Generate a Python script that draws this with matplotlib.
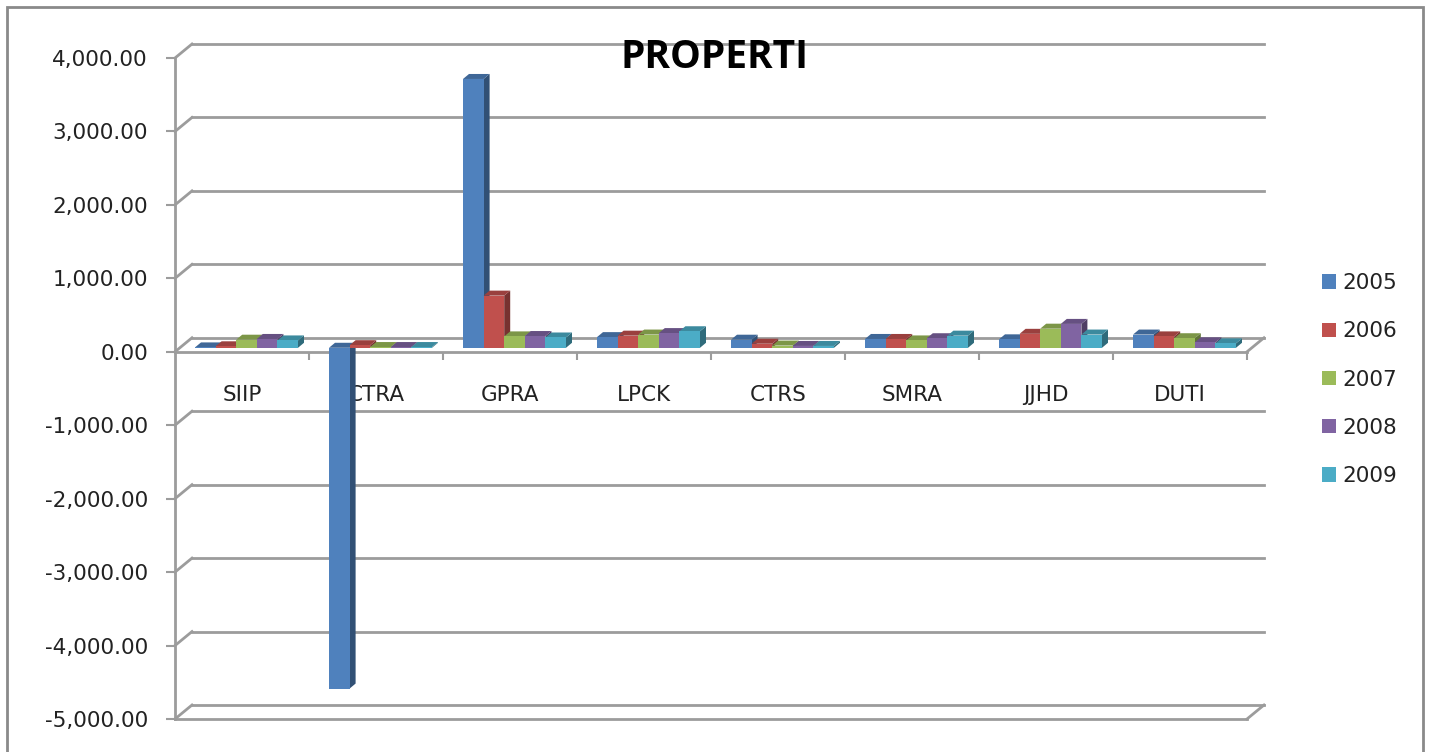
import numpy as np
import matplotlib
matplotlib.use('Agg')
import matplotlib.pyplot as plt
from matplotlib.patches import Polygon, Rectangle, Patch
from matplotlib.ticker import FuncFormatter

categories = ['SIIP', 'CTRA', 'GPRA', 'LPCK', 'CTRS', 'SMRA', 'JJHD', 'DUTI']
years = ['2005', '2006', '2007', '2008', '2009']
v2005 = [5, -4640, 3660, 145, 110, 120, 115, 180]
v2006 = [20, 35, 710, 165, 55, 120, 190, 155]
v2007 = [110, 10, 155, 180, 30, 100, 260, 130]
v2008 = [120, 10, 160, 200, 25, 130, 325, 75]
v2009 = [100, 10, 140, 225, 25, 165, 180, 60]
series = [v2005, v2006, v2007, v2008, v2009]
colors = ['#4F81BD', '#C0504D', '#9BBB59', '#8064A2', '#4BACC6']

W, H = 1429, 752
fig = plt.figure(figsize=(W/100., H/100.), dpi=100)
fig.patch.set_facecolor('white')

# front plane of the 3d box in pixels
left, right, top, bottom = 175, 1247, 58, 719
ax = fig.add_axes([left/W, 1-bottom/H, (right-left)/W, (bottom-top)/H])
ax.set_xlim(0, 8)
ax.set_ylim(-5000, 4000)
ax.patch.set_alpha(0)

xpp = 8./(right-left)          # x units per pixel
ypp = 9000./(bottom-top)       # y units per pixel
wdx, wdy = 17*xpp, 14*ypp      # wall depth
bdx, bdy = 6*xpp, 5*ypp        # bar depth
base = 4*ypp                   # bars sit a bit behind the front plane
bw = 20.6*xpp
gstart = 20*xpp

grey = '#9c9c9c'
lw = 2.0

# back wall gridlines
for v in range(-5000, 4001, 1000):
    ax.plot([0, wdx], [v, v+wdy], color=grey, lw=lw, clip_on=False, zorder=1)
    ax.plot([wdx, 8+wdx], [v+wdy, v+wdy], color=grey, lw=lw, clip_on=False, zorder=1)
# floor plates at 0 and -5000
for v in [0, -5000]:
    ax.plot([0, 8], [v, v], color=grey, lw=lw, clip_on=False, zorder=1)
    ax.plot([8, 8+wdx], [v, v+wdy], color=grey, lw=lw, clip_on=False, zorder=1)

# bars
z = 2
for i in range(len(categories)):
    for j, vals in enumerate(series):
        v = vals[i]
        x0 = i + gstart + j*bw
        x1 = x0 + bw
        c = np.array(matplotlib.colors.to_rgb(colors[j]))
        hi = base + max(v, 0)
        lo = base + min(v, 0)
        ax.add_patch(Polygon([[x1, lo], [x1, hi], [x1+bdx, hi+bdy], [x1+bdx, lo+bdy]],
                             closed=True, fc=c*0.62, ec='none', zorder=z, clip_on=False))
        ax.add_patch(Polygon([[x0, hi], [x1, hi], [x1+bdx, hi+bdy], [x0+bdx, hi+bdy]],
                             closed=True, fc=c*0.8, ec='none', zorder=z, clip_on=False))
        ax.bar(x0, v, bottom=base, width=bw, align='edge', color=colors[j],
               edgecolor='none', zorder=z+0.5, clip_on=False)
        z += 1

# axes styling
for s in ['top', 'right', 'bottom']:
    ax.spines[s].set_visible(False)
ax.spines['left'].set_color(grey)
ax.spines['left'].set_linewidth(lw)
ax.set_yticks(range(-5000, 4001, 1000))
ax.yaxis.set_major_formatter(FuncFormatter(lambda v, p: '{:,.2f}'.format(v)))
ax.tick_params(axis='y', direction='out', length=6.5, width=1.5, color=grey,
               labelsize=15.5, labelcolor='#222222', pad=13)

ax.set_xticks(range(1, 9))
ax.set_xticklabels([])
ax.set_xticks(np.arange(8)+0.5, minor=True)
ax.set_xticklabels(categories, minor=True)
ax.tick_params(axis='x', which='major', direction='out', length=6, width=1.5, color=grey)
ax.tick_params(axis='x', which='minor', length=0, labelsize=15.5, labelcolor='#222222', pad=24)
ax.spines['bottom'].set_position(('data', 0))

# title
fig.text(714/W, 1-58/H, 'PROPERTI', ha='center', va='center', fontsize=28,
         fontweight='bold', family='Open Sans', color='black')

# legend
handles = [Patch(facecolor=c, edgecolor='none') for c in colors]
fig.legend(handles, years, loc='center left', bbox_to_anchor=(1322/W, 1-379.5/H),
           frameon=False, fontsize=15.5, borderpad=0, borderaxespad=0,
           handlelength=0.65, handleheight=0.65, handletextpad=0.3, labelspacing=1.31,
           labelcolor='#222222')

# chart border
fig.patches.append(Rectangle((7/W, -0.05), (1423-7)/W, 1.05-7/H, transform=fig.transFigure,
                             fill=False, ec='#8a8a8a', lw=2))

plt.savefig('out.png', dpi=100)
